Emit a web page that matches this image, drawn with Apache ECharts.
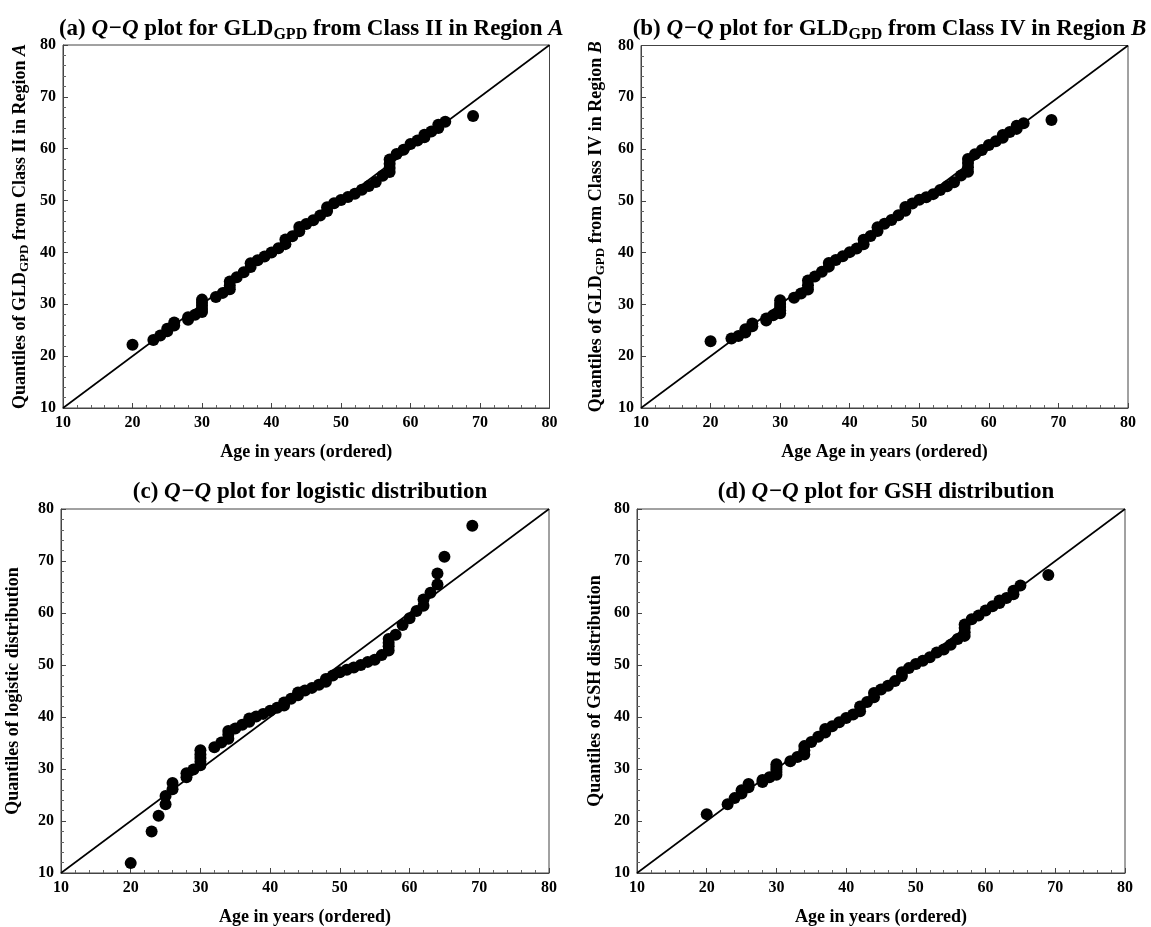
<!DOCTYPE html>
<html>
<head>
<meta charset="utf-8">
<script src="https://cdn.jsdelivr.net/npm/echarts@6/dist/echarts.min.js"></script>
<style>html,body{margin:0;padding:0;background:#fff;}#c{width:1151px;height:927px;}</style>
</head>
<body>
<div id="c"></div>
<script>
// Ordered ages (x values, shared by all four panels)
const ages = [20,23,24,25,25,26,26,28,28,29,30,30,30,30,30,32,33,34,34,34,35,36,37,37,38,39,40,41,42,42,43,44,44,45,46,47,48,48,49,50,51,52,53,54,55,56,57,57,57,57,58,59,60,61,62,62,63,64,64,65,69];
// Theoretical quantiles for each panel
const qA = [22.2,23.1,24.0,24.8,25.3,25.9,26.5,27.0,27.5,28.0,28.5,29.1,29.7,30.3,30.9,31.4,32.2,32.9,33.6,34.4,35.2,36.2,37.2,37.9,38.5,39.2,40.0,40.8,41.6,42.5,43.1,44.1,44.9,45.5,46.2,47.1,48.0,48.7,49.5,50.1,50.7,51.3,52.1,52.8,53.6,54.8,55.5,56.3,57.1,57.9,59.0,59.8,60.9,61.6,62.2,62.7,63.3,64.0,64.6,65.2,66.3];
const qB = [22.9,23.4,23.9,24.6,25.2,25.8,26.3,26.9,27.3,27.9,28.3,28.9,29.5,30.1,30.8,31.3,32.1,32.9,33.7,34.6,35.4,36.3,37.3,38.0,38.6,39.3,40.1,40.8,41.6,42.5,43.2,44.2,44.9,45.6,46.3,47.2,48.1,48.8,49.5,50.2,50.7,51.3,52.1,52.8,53.6,54.9,55.6,56.5,57.3,58.1,59.0,59.8,60.8,61.5,62.2,62.7,63.3,63.9,64.5,65.0,65.6];
const qC = [11.9,18.0,21.0,23.2,24.8,26.1,27.3,28.4,29.2,29.9,30.7,31.4,32.1,32.8,33.6,34.2,35.1,35.8,36.6,37.3,37.8,38.5,39.1,39.7,40.1,40.6,41.2,41.8,42.2,42.8,43.5,44.2,44.7,45.1,45.6,46.2,46.8,47.3,48.0,48.6,49.1,49.5,50.0,50.6,51.0,51.9,52.8,53.6,54.3,55.0,55.8,57.7,59.0,60.4,61.4,62.6,63.9,65.5,67.6,70.8,76.8];
const qD = [21.3,23.2,24.4,25.3,25.9,26.5,27.1,27.5,27.9,28.4,28.9,29.4,29.9,30.4,30.9,31.5,32.3,32.8,33.6,34.4,35.2,36.2,37.0,37.7,38.2,39.0,39.8,40.5,41.1,42.0,42.9,43.8,44.6,45.3,46.0,46.9,47.9,48.6,49.4,50.2,50.8,51.5,52.4,53.0,53.9,55.0,55.6,56.3,57.1,57.8,58.8,59.5,60.5,61.3,61.9,62.4,62.9,63.6,64.3,65.3,67.3];
// Axis range / reference line ends
const axisRange = [10, 80];
const tickStep = 10;

const titles = [
  '{n|(a) }{i|Q−Q}{n| plot for GLD}{s|GPD}{n| from Class II in Region }{i|A}',
  '{n|(b) }{i|Q−Q}{n| plot for GLD}{s|GPD}{n| from Class IV in Region }{i|B}',
  '{n|(c) }{i|Q−Q}{n| plot for logistic distribution}',
  '{n|(d) }{i|Q−Q}{n| plot for GSH distribution}'
];
const yNames = [
  '{n|Quantiles of GLD}{s|GPD}{n| from Class II in Region }{i|A}',
  '{n|Quantiles of GLD}{s|GPD}{n| from Class IV in Region }{i|B}',
  '{n|Quantiles of logistic distribution}',
  '{n|Quantiles of GSH distribution}'
];
const xNames = ['Age in years (ordered)','Age Age in years (ordered)','Age in years (ordered)','Age in years (ordered)'];
const seriesQ = [qA, qB, qC, qD];

const FF = '"Liberation Serif","Times New Roman",serif';
const grids = [
  {left: 63, top: 45, width: 486.5, height: 363},
  {left: 641, top: 45.5, width: 487, height: 362.5},
  {left: 61, top: 509, width: 488, height: 367},
  {left: 637, top: 509, width: 488, height: 367}
];
const titleTops = [10, 10, 473, 473];
const yNameGaps = [32, 34, 37, 31];

function rich(size, subSize, lh) {
  return {
    n: {fontFamily: FF, fontWeight: 'bold', fontSize: size, color: '#000', lineHeight: lh, verticalAlign: 'middle'},
    i: {fontFamily: FF, fontWeight: 'bold', fontStyle: 'italic', fontSize: size, color: '#000', lineHeight: lh, verticalAlign: 'middle'},
    s: {fontFamily: FF, fontWeight: 'bold', fontSize: subSize, color: '#000', lineHeight: subSize, verticalAlign: 'bottom'}
  };
}

const option = {
  backgroundColor: '#fff',
  animation: false,
  title: titles.map((t, k) => ({
    text: t,
    left: grids[k].left + grids[k].width / 2,
    top: titleTops[k],
    textAlign: 'center',
    textStyle: {rich: rich(23, 16, 28)}
  })),
  grid: grids.map(g => Object.assign({show: true, borderColor: '#444', borderWidth: 1, containLabel: false}, g)),
  xAxis: grids.map((g, k) => ({
    gridIndex: k, type: 'value', min: axisRange[0], max: axisRange[1], interval: tickStep,
    name: xNames[k], nameLocation: 'middle', nameGap: 35,
    nameTextStyle: {fontFamily: FF, fontWeight: 'bold', fontSize: 18, color: '#000'},
    axisLine: {show: true, lineStyle: {color: '#444', width: 1}},
    axisTick: {show: true, inside: true, length: 5, lineStyle: {color: '#444'}},
    minorTick: {show: true, splitNumber: 5, length: 3, lineStyle: {color: '#666'}},
    splitLine: {show: false},
    axisLabel: {fontFamily: FF, fontWeight: 'bold', fontSize: 16, color: '#000', margin: 7}
  })),
  yAxis: grids.map((g, k) => ({
    gridIndex: k, type: 'value', min: axisRange[0], max: axisRange[1], interval: tickStep,
    name: yNames[k], nameLocation: 'middle', nameGap: yNameGaps[k], nameRotate: 90,
    nameTextStyle: {rich: rich(18, 13, 22)},
    axisLine: {show: true, lineStyle: {color: '#444', width: 1}},
    axisTick: {show: true, inside: true, length: 5, lineStyle: {color: '#444'}},
    minorTick: {show: true, splitNumber: 5, length: 3, lineStyle: {color: '#666'}},
    splitLine: {show: false},
    axisLabel: {fontFamily: FF, fontWeight: 'bold', fontSize: 16, color: '#000', margin: 7}
  })),
  series: []
};

seriesQ.forEach((q, k) => {
  option.series.push({
    type: 'line', xAxisIndex: k, yAxisIndex: k,
    data: [[axisRange[0], axisRange[0]], [axisRange[1], axisRange[1]]],
    symbol: 'none', lineStyle: {color: '#000', width: 1.6}, silent: true, z: 2
  });
  option.series.push({
    type: 'scatter', xAxisIndex: k, yAxisIndex: k,
    data: ages.map((a, i) => [a, q[i]]),
    symbol: 'circle', symbolSize: 12,
    itemStyle: {color: '#000', opacity: 1}, z: 3
  });
});

const chart = echarts.init(document.getElementById('c'), null, {renderer: 'canvas'});
chart.setOption(option);
</script>
</body>
</html>
